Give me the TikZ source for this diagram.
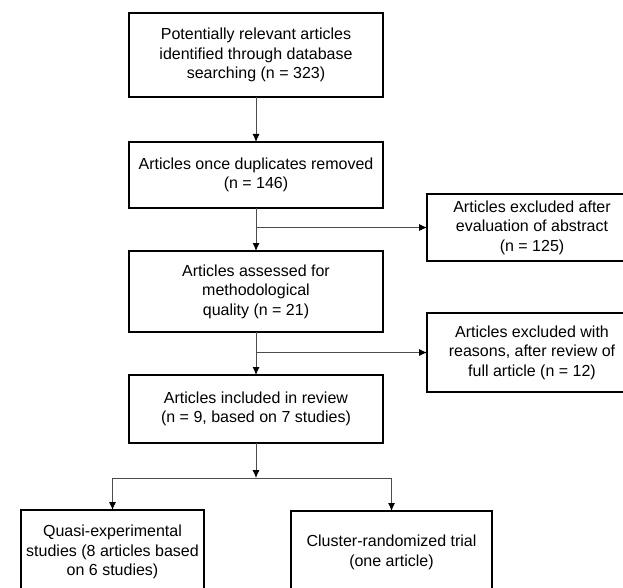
\documentclass[tikz,border=0pt]{standalone}
\usepackage{fontspec}
\setmainfont{Liberation Sans}
\usetikzlibrary{positioning,arrows.meta}

\begin{document}
\begin{tikzpicture}[
  x=1pt, y=1pt,
  node distance = 43pt,
  box/.style={rectangle, draw=black, line width=1.4pt, align=center, inner sep=0pt, outer sep=0pt, minimum width=254pt, font=\fontsize{16}{19.5}\selectfont},
  sidebox/.style={box, minimum width=210pt},
  arw/.style={-{Latex[length=8pt,width=7pt,color=black]}, line width=0.9pt, draw=black!70}
  ]
\useasboundingbox (0,0) rectangle (623,-588);
\clip (0,0) rectangle (623,-588);

\node [box, minimum height=84pt] (search) at (256,-55) {Potentially relevant articles\\identified through database\\searching (n = 323)};
\node [box, minimum height=66pt, below=45pt of search] (dupl) {Articles once duplicates removed\\(n = 146)};
\node [box, minimum height=81pt, below=of dupl] (assess) {Articles assessed for\\methodological\\quality (n = 21)};
\node [box, minimum height=68pt, below=of assess] (incl) {Articles included in review\\(n = 9, based on 7 studies)};

\node [sidebox, minimum height=67pt] (excl1) at (532,-227.5) {Articles excluded after\\evaluation of abstract\\(n = 125)};
\node [sidebox, minimum height=79pt] (excl2) at (532,-352.5) {Articles excluded with\\reasons, after review of\\full article (n = 12)};

\coordinate (split) at (256,-478);
\node [box, minimum width=183pt, minimum height=84pt] (quasi) at (112.5,-552) {Quasi-experimental\\studies (8 articles based\\on 6 studies)};
\node [box, minimum width=201pt, minimum height=83pt] (cluster) at (391.5,-552.5) {Cluster-randomized trial\\(one article)};

\draw [arw] (search) -- (dupl);
\draw [arw] (dupl) -- (assess);
\draw [arw] (dupl.south |- excl1.west) -- (excl1);
\draw [arw] (assess) -- (incl);
\draw [arw] (assess.south |- excl2.west) -- (excl2);
\draw [arw] (incl) -- (split);
\draw [arw] (split) -| (quasi);
\draw [arw] (split) -| (cluster);

\end{tikzpicture}
\end{document}
